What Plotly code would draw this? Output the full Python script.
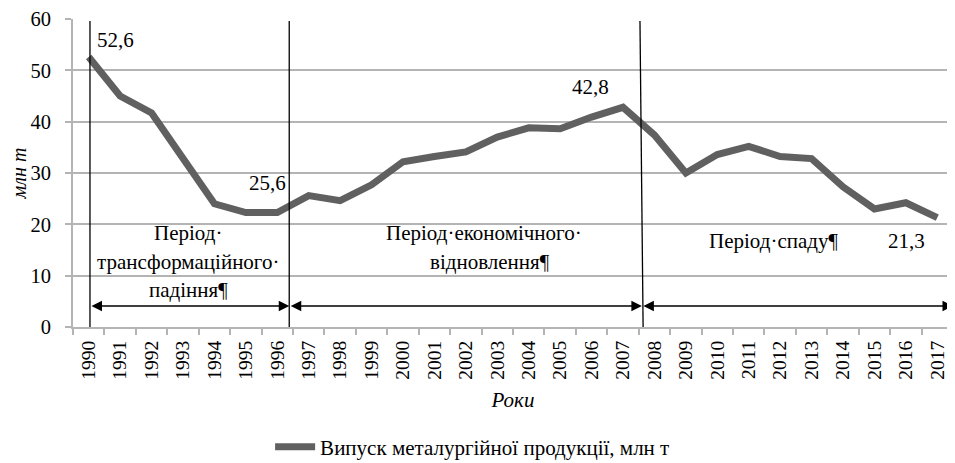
import plotly.graph_objects as go

years = [str(y) for y in range(1990, 2018)]
output = [52.6, 45.0, 41.7, 33.0, 24.0, 22.3, 22.3, 25.6, 24.6, 27.7,
          32.2, 33.2, 34.1, 37.0, 38.8, 38.6, 40.9, 42.8, 37.4, 30.0,
          33.6, 35.2, 33.2, 32.8, 27.3, 23.0, 24.2, 21.3]
series_name = "Випуск металургійної продукції, млн т"
y_title = "млн т"
x_title = "Роки"
value_labels = ["52,6", "25,6", "42,8", "21,3"]
period_lines = [["Період·", "трансформаційного·", "падіння¶"],
                ["Період·економічного·", "відновлення¶"],
                ["Період·спаду¶"]]

FONT = "Liberation Serif"
GRID = "#b4b4b4"
TXT = dict(family=FONT, size=21, color="black")

fig = go.Figure()
fig.add_trace(go.Scatter(
    x=years, y=output, mode="lines", name=series_name,
    line=dict(color="#606060", width=7),
))

# period boundary lines
for (xb, xt) in [(0.04, 0.04), (6.38, 6.38), (17.64, 17.54)]:
    fig.add_shape(type="line", xref="x", yref="y", x0=xb, y0=0, x1=xt, y1=59.6,
                  line=dict(color="black", width=1.3))

ann = []
# double-headed arrows
for (a, b) in [(0.04, 6.38), (6.38, 17.6), (17.6, 27.5)]:
    ann.append(dict(x=b, y=4.1, ax=a, ay=4.1, xref="x", yref="y", axref="x", ayref="y",
                    text="", showarrow=True, arrowside="end+start",
                    arrowhead=2, startarrowhead=2, arrowsize=1.4, startarrowsize=1.4,
                    arrowwidth=1.5, arrowcolor="black"))

# value labels
for txt, (xi, yv) in zip(value_labels, [(0.84, 55.9), (5.7, 28.1), (15.95, 46.8), (26.03, 16.8)]):
    ann.append(dict(x=xi, y=yv, xref="x", yref="y", text=txt, showarrow=False, font=TXT))

# period labels
pos = [[(3.16, 18.3), (3.16, 12.7), (3.16, 7.2)],
       [(12.58, 18.3), (12.77, 12.7)],
       [(21.8, 16.8)]]
for lines, ps in zip(period_lines, pos):
    for t, (xi, yv) in zip(lines, ps):
        ann.append(dict(x=xi, y=yv, xref="x", yref="y", text=t, showarrow=False, font=TXT))

fig.update_layout(
    width=947, height=455,
    margin=dict(l=65, r=2, t=11, b=136, autoexpand=False),
    paper_bgcolor="white", plot_bgcolor="white",
    font=TXT,
    showlegend=True,
    legend=dict(orientation="h", x=0.224, xanchor="left", y=-0.39, yanchor="middle",
                font=TXT, itemwidth=40, bgcolor="rgba(0,0,0,0)"),
    annotations=ann,
    xaxis=dict(type="category", range=[-0.5, 27.5], tickangle=-90, automargin=False,
               showgrid=False, showline=True, linecolor=GRID, linewidth=2,
               ticks="outside", tickson="boundaries", ticklen=6, tickcolor=GRID, tickwidth=2,
               ticklabelstandoff=4,
               tickfont=dict(family=FONT, size=19.5, color="black"),
               title=dict(text=x_title, font=dict(family=FONT, size=21, color="black", style="italic"),
                          standoff=14)),
    yaxis=dict(range=[0, 60], dtick=10, showgrid=True, gridcolor=GRID, gridwidth=2,
               showline=True, linecolor=GRID, linewidth=2, zeroline=False, automargin=False,
               ticks="outside", ticklen=6, tickcolor=GRID, tickwidth=2,
               ticklabelstandoff=10,
               tickfont=dict(family=FONT, size=20.5, color="black"),
               title=dict(text=y_title, font=dict(family=FONT, size=20, color="black", style="italic"),
                          standoff=12)),
)

fig.write_html("out.html")
